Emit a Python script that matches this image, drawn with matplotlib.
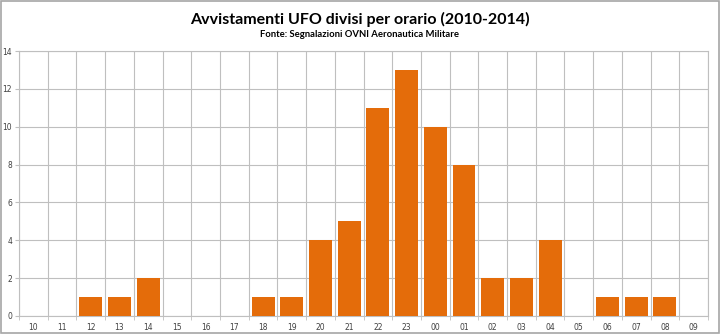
import matplotlib.pyplot as plt
import numpy as np
from matplotlib.patches import Rectangle

# hours and sightings count
hours = ['10', '11', '12', '13', '14', '15', '16', '17', '18', '19', '20', '21',
         '22', '23', '00', '01', '02', '03', '04', '05', '06', '07', '08', '09']
counts = [0, 0, 1, 1, 2, 0, 0, 0, 1, 1, 4, 5,
          11, 13, 10, 8, 2, 2, 4, 0, 1, 1, 1, 0]

fig = plt.figure(figsize=(7.2, 3.34), dpi=100)
ax = fig.add_axes([0.0264, 0.054, 0.957, 0.793])

x = np.arange(len(hours))
ax.bar(x, counts, width=0.8, color='#E46C0A', zorder=3)

ax.set_xlim(-0.5, len(hours) - 0.5)
ax.set_ylim(0, 14)
ax.set_yticks(range(0, 15, 2))
ax.set_xticks(x)
ax.set_xticklabels(hours)
# vertical gridlines at category boundaries
ax.set_xticks(np.arange(-0.5, len(hours), 1), minor=True)
ax.grid(True, which='minor', axis='x', color='#BFBFBF', lw=0.8, zorder=0)
ax.grid(True, which='major', axis='y', color='#BFBFBF', lw=0.8, zorder=0)
ax.tick_params(axis='x', which='major', length=0, labelsize=5.5, colors='#404040', pad=5)
ax.tick_params(axis='x', which='minor', length=3, color='#BFBFBF')
ax.tick_params(axis='y', length=3, color='#BFBFBF', labelsize=5.5, colors='#404040', pad=2)
for s in ax.spines.values():
    s.set_color('#BFBFBF')
    s.set_linewidth(0.8)

fig.text(0.5, 0.943, 'Avvistamenti UFO divisi per orario (2010-2014)',
         ha='center', va='center', fontsize=11.5, fontweight='bold', family='Lato')
fig.text(0.5, 0.898, 'Fonte: Segnalazioni OVNI Aeronautica Militare',
         ha='center', va='center', fontsize=6.8, fontweight='bold', family='Lato')

# light frame round the whole chart
fig.patches.append(Rectangle((0.002, 0.004), 0.996, 0.992, transform=fig.transFigure,
                             fill=False, edgecolor='#A6A6A6', lw=1.2))

fig.savefig('out.png', dpi=100)
